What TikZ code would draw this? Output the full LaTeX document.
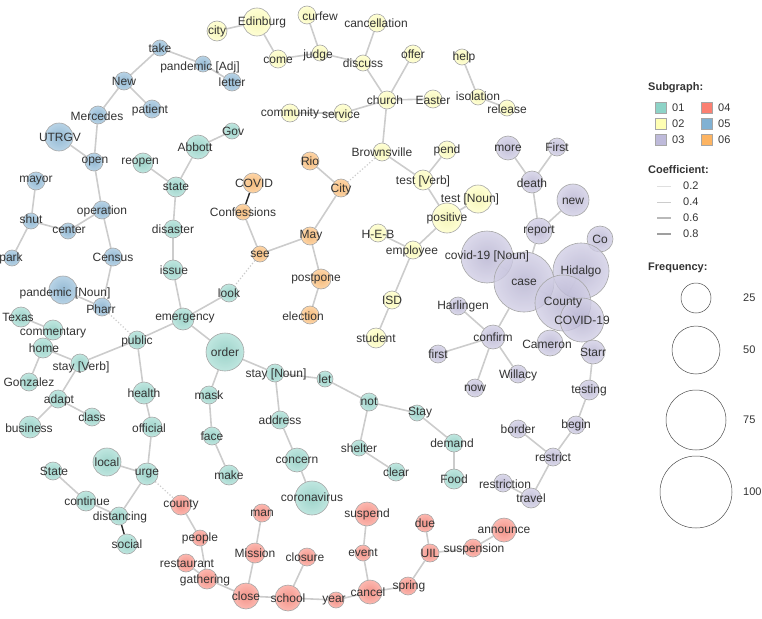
\documentclass[tikz,border=0pt]{standalone}
\usepackage{fontspec}
\setmainfont{Liberation Sans}
\usetikzlibrary{backgrounds}
\pgfdeclarelayer{fg}
\pgfsetlayers{background,main,fg}
\definecolor{cA}{HTML}{8DD3C7}
\definecolor{cB}{HTML}{FFFFB3}
\definecolor{cC}{HTML}{BEBADA}
\definecolor{cD}{HTML}{FB8072}
\definecolor{cE}{HTML}{80B1D3}
\definecolor{cF}{HTML}{FDB462}
\definecolor{txt}{HTML}{333333}
\definecolor{edgec}{HTML}{CCCCCC}
\tikzset{
 wn/.style={circle, draw=gray!70, line width=0.6pt, inner sep=0pt, fill opacity=0.8},
 lbl/.style={text=txt, font=\fontsize{12}{12}\selectfont, inner sep=0pt},
 ed/.style={draw=edgec, line width=1.6pt},
 dk/.style={draw=gray!30!black, line width=1.4pt},
 neg/.style={draw=edgec, line width=1.2pt, dotted},
 lgt/.style={text=txt, font=\fontsize{11}{11}\selectfont, inner sep=0pt, anchor=west},
 lgh/.style={text=txt, font=\bfseries\fontsize{11}{11}\selectfont, inner sep=0pt, anchor=west},
}
\newcommand\wnode[8]{\node[wn, inner color=#5!95!black, outer color=#5!70!white, minimum size=#4*2pt] (#1) at (#2,#3) {};
 \begin{pgfonlayer}{fg}\node[lbl] (#1-l) at (#6,#7) {#8};\end{pgfonlayer}}
\begin{document}
\begin{tikzpicture}[x=1pt,y=-1pt]
\useasboundingbox (0,0) rectangle (762,618);
% Blue 05
\wnode{take}{160}{48}{8}{cE}{160}{48}{take}
\wnode{padj}{203}{64}{8}{cE}{200}{67}{pandemic [Adj]}
\wnode{letter}{232}{82}{9}{cE}{232}{82}{letter}
\wnode{New}{124}{81}{9}{cE}{124}{81}{New}
\wnode{patient}{152}{109}{9}{cE}{150}{110}{patient}
\wnode{Mercedes}{98}{115}{9}{cE}{97}{116}{Mercedes}
\wnode{UTRGV}{59}{137}{14}{cE}{60}{137}{UTRGV}
\wnode{open}{94}{162}{9}{cE}{95}{162}{open}
\wnode{mayor}{36}{181}{9}{cE}{36}{181}{mayor}
\wnode{operation}{102}{210}{9}{cE}{102}{211}{operation}
\wnode{shut}{31}{221}{8}{cE}{31}{219}{shut}
\wnode{center}{68}{231}{8}{cE}{69}{230}{center}
\wnode{park}{12}{258}{8}{cE}{11}{258}{park}
\wnode{Census}{113}{257}{9}{cE}{113}{257}{Census}
\wnode{pnoun}{63}{290}{14}{cE}{65}{293}{pandemic [Noun]}
\wnode{Pharr}{102}{307}{9}{cE}{101}{309}{Pharr}
% Yellow 02
\wnode{city}{217}{31}{10}{cB}{217}{31}{city}
\wnode{Edinburg}{257}{22}{14}{cB}{262}{22}{Edinburg}
\wnode{come}{278}{59}{9}{cB}{278}{60}{come}
\wnode{curfew}{307}{15}{9}{cB}{320}{16}{curfew}
\wnode{judge}{320}{53}{8}{cB}{318}{55}{judge}
\wnode{cancellation}{377}{23}{9}{cB}{376}{23}{cancellation}
\wnode{discuss}{363}{63}{8}{cB}{363}{63}{discuss}
\wnode{offer}{413}{54}{9}{cB}{413}{54}{offer}
\wnode{help}{462}{57}{8}{cB}{464}{57}{help}
\wnode{church}{387}{100}{9}{cB}{385}{100}{church}
\wnode{Easter}{433}{99}{9}{cB}{433}{100}{Easter}
\wnode{isolation}{478}{97}{8}{cB}{478}{96}{isolation}
\wnode{release}{507}{108}{8}{cB}{507}{109}{release}
\wnode{community}{290}{113}{9}{cB}{290}{113}{community}
\wnode{service}{343}{113}{9}{cB}{341}{114}{service}
\wnode{Brownsville}{382}{152}{9}{cB}{382}{152}{Brownsville}
\wnode{pend}{447}{150}{9}{cB}{447}{150}{pend}
\wnode{testv}{423}{180}{10}{cB}{423}{181}{test [Verb]}
\wnode{testn}{478}{199}{14}{cB}{470}{199}{test [Noun]}
\wnode{positive}{447}{218}{15}{cB}{447}{218}{positive}
\wnode{HEB}{378}{233}{9}{cB}{378}{234}{H-E-B}
\wnode{employee}{413}{250}{9}{cB}{412}{251}{employee}
\wnode{ISD}{392}{300}{9}{cB}{392}{300}{ISD}
\wnode{student}{376}{338}{10}{cB}{376}{338}{student}
% Orange 06
\wnode{Rio}{310}{161}{9}{cF}{310}{161}{Rio}
\wnode{City}{341}{188}{9}{cF}{341}{189}{City}
\wnode{COVID}{253}{183}{10}{cF}{254}{183}{COVID}
\wnode{Confessions}{243}{212}{8}{cF}{243}{212}{Confessions}
\wnode{see}{260}{254}{8}{cF}{260}{254}{see}
\wnode{May}{310}{236}{9}{cF}{311}{236}{May}
\wnode{postpone}{321}{279}{10}{cF}{316}{279}{postpone}
\wnode{election}{310}{315}{9}{cF}{303}{316}{election}
% Green 01
\wnode{reopen}{143}{163}{10}{cA}{140}{163}{reopen}
\wnode{Abbott}{198}{147}{12}{cA}{195}{147}{Abbott}
\wnode{Gov}{232}{131}{8}{cA}{233}{131}{Gov}
\wnode{state}{176}{187}{10}{cA}{176}{187}{state}
\wnode{disaster}{173}{229}{9}{cA}{173}{229}{disaster}
\wnode{issue}{173}{270}{10}{cA}{174}{270}{issue}
\wnode{look}{229}{293}{9}{cA}{229}{293}{look}
\wnode{emergency}{183}{319}{11}{cA}{185}{319}{emergency}
\wnode{order}{225}{352}{19}{cA}{225}{352}{order}
\wnode{stayn}{275}{373}{9}{cA}{276}{374}{stay [Noun]}
\wnode{mask}{209}{395}{9}{cA}{209}{395}{mask}
\wnode{Texas}{21}{317}{10}{cA}{18}{317}{Texas}
\wnode{commentary}{53}{330}{10}{cA}{53}{333}{commentary}
\wnode{home}{43}{348}{10}{cA}{44}{348}{home}
\wnode{public}{137}{340}{9}{cA}{137}{341}{public}
\wnode{stayv}{80}{363}{9}{cA}{81}{367}{stay [Verb]}
\wnode{Gonzalez}{29}{382}{9}{cA}{29}{382}{Gonzalez}
\wnode{health}{144}{393}{11}{cA}{144}{393}{health}
\wnode{adapt}{58}{399}{9}{cA}{59}{400}{adapt}
\wnode{class}{92}{417}{9}{cA}{92}{417}{class}
\wnode{business}{30}{427}{11}{cA}{29}{428}{business}
\wnode{official}{152}{427}{10}{cA}{149}{428}{official}
\wnode{local}{107}{462}{14}{cA}{107}{462}{local}
\wnode{urge}{147}{474}{11}{cA}{147}{474}{urge}
\wnode{State}{53}{471}{9}{cA}{54}{471}{State}
\wnode{continue}{86}{501}{10}{cA}{87}{501}{continue}
\wnode{distancing}{119}{516}{9}{cA}{120}{517}{distancing}
\wnode{social}{127}{544}{10}{cA}{127}{544}{social}
\wnode{face}{212}{436}{9}{cA}{212}{436}{face}
\wnode{make}{229}{475}{10}{cA}{229}{475}{make}
\wnode{address}{280}{420}{9}{cA}{280}{420}{address}
\wnode{concern}{297}{460}{12}{cA}{297}{460}{concern}
\wnode{coronavirus}{312}{498}{17}{cA}{312}{497}{coronavirus}
\wnode{let}{325}{379}{8}{cA}{325}{379}{let}
\wnode{not}{369}{402}{9}{cA}{369}{402}{not}
\wnode{Stay}{417}{413}{8}{cA}{420}{413}{Stay}
\wnode{shelter}{359}{448}{8}{cA}{359}{448}{shelter}
\wnode{clear}{396}{472}{9}{cA}{396}{472}{clear}
\wnode{demand}{454}{443}{9}{cA}{452}{443}{demand}
\wnode{Food}{454}{479}{10}{cA}{454}{479}{Food}
% Red 04
\wnode{county}{181}{505}{10}{cD}{181}{505}{county}
\wnode{people}{200}{538}{8}{cD}{200}{538}{people}
\wnode{restaurant}{186}{563}{9}{cD}{187}{564}{restaurant}
\wnode{gathering}{207}{579}{10}{cD}{205}{580}{gathering}
\wnode{man}{262}{513}{9}{cD}{262}{513}{man}
\wnode{Mission}{255}{553}{10}{cD}{255}{553}{Mission}
\wnode{close}{246}{596}{13}{cD}{246}{596}{close}
\wnode{closure}{307}{557}{9}{cD}{305}{557}{closure}
\wnode{school}{288}{598}{13}{cD}{288}{598}{school}
\wnode{suspend}{367}{514}{12}{cD}{367}{514}{suspend}
\wnode{event}{363}{553}{8}{cD}{363}{553}{event}
\wnode{year}{336}{600}{8}{cD}{334}{601}{year}
\wnode{cancel}{370}{592}{12}{cD}{368}{592}{cancel}
\wnode{spring}{408}{586}{9}{cD}{409}{586}{spring}
\wnode{due}{425}{523}{9}{cD}{425}{523}{due}
\wnode{UIL}{430}{553}{9}{cD}{430}{553}{UIL}
\wnode{suspension}{473}{548}{9}{cD}{474}{549}{suspension}
\wnode{announce}{504}{530}{12}{cD}{504}{530}{announce}
% Purple 03
\wnode{more}{508}{148}{12}{cC}{508}{148}{more}
\wnode{First}{557}{147}{9}{cC}{557}{147}{First}
\wnode{death}{532}{182}{11}{cC}{532}{183}{death}
\wnode{new}{573}{200}{16}{cC}{573}{201}{new}
\wnode{report}{539}{231}{13}{cC}{539}{231}{report}
\wnode{Co}{600}{239}{13}{cC}{600}{239}{Co}
\wnode{covidn}{487}{257}{26}{cC}{487}{256}{covid-19 [Noun]}
\wnode{case}{524}{282}{30}{cC}{524}{282}{case}
\wnode{Hidalgo}{581}{271}{28}{cC}{581}{271}{Hidalgo}
\wnode{County}{563}{303}{28}{cC}{563}{303}{County}
\wnode{COVIDnt}{582}{320}{22}{cC}{582}{320}{COVID-19}
\wnode{Cameron}{550}{343}{13}{cC}{547}{344}{Cameron}
\wnode{Starr}{593}{352}{12}{cC}{593}{352}{Starr}
\wnode{testing}{589}{390}{10}{cC}{589}{390}{testing}
\wnode{confirm}{493}{337}{12}{cC}{493}{337}{confirm}
\wnode{Harlingen}{458}{306}{9}{cC}{463}{306}{Harlingen}
\wnode{first}{438}{354}{9}{cC}{438}{354}{first}
\wnode{now}{475}{388}{9}{cC}{475}{388}{now}
\wnode{Willacy}{518}{374}{9}{cC}{518}{375}{Willacy}
\wnode{begin}{576}{425}{9}{cC}{576}{425}{begin}
\wnode{border}{518}{429}{9}{cC}{518}{429}{border}
\wnode{restrict}{553}{457}{9}{cC}{553}{457}{restrict}
\wnode{restriction}{503}{483}{9}{cC}{505}{484}{restriction}
\wnode{travel}{531}{498}{10}{cC}{531}{498}{travel}
% Edges
\begin{scope}[on background layer]
\foreach \a/\b in {take/New,take/padj,padj/letter,New/Mercedes,New/patient,Mercedes/open,UTRGV/open,open/operation,operation/center,center/shut,shut/mayor,shut/park,operation/Census,Census/Pharr,pnoun/Pharr,
city/Edinburg,Edinburg/come,come/judge,curfew/judge,judge/discuss,cancellation/discuss,discuss/church,offer/church,church/Easter,church/service,community/service,church/Brownsville,help/isolation,isolation/release,Brownsville/testv,testv/pend,testv/positive,testn/positive,positive/employee,HEB/employee,employee/ISD,ISD/student,
Rio/City,City/May,May/see,see/Confessions,May/postpone,postpone/election,
reopen/state,Abbott/Gov,Abbott/state,state/disaster,disaster/issue,issue/emergency,emergency/look,emergency/order,emergency/public,public/stayv,public/health,health/official,official/urge,urge/local,urge/distancing,distancing/continue,continue/State,Texas/commentary,commentary/home,home/stayv,home/Gonzalez,stayv/adapt,adapt/business,adapt/class,order/mask,mask/face,face/make,order/stayn,stayn/let,stayn/address,address/concern,concern/coronavirus,let/not,not/Stay,not/shelter,shelter/clear,Stay/demand,demand/Food,
county/people,people/gathering,restaurant/gathering,gathering/close,man/Mission,Mission/close,close/school,closure/school,school/year,year/cancel,cancel/event,event/suspend,cancel/spring,spring/UIL,UIL/due,UIL/suspension,suspension/announce,
more/death,First/death,death/report,report/new,report/case,covidn/case,case/County,Hidalgo/County,Hidalgo/Co,County/COVIDnt,County/Cameron,COVIDnt/Starr,Starr/testing,testing/begin,begin/restrict,border/restrict,restrict/travel,travel/restriction,case/confirm,Harlingen/confirm,first/confirm,confirm/now,confirm/Willacy}
 {\draw[ed] (\a) -- (\b);}
\draw[dk] (Confessions) -- (COVID);
\draw[dk] (distancing) -- (social);
\draw[neg] (Pharr) -- (public);
\draw[neg] (Brownsville) -- (City);
\draw[neg] (see) -- (look);
\draw[neg] (urge) -- (county);
\end{scope}
% Legend
\node[lgh] (hsub) at (648,88) {Subgraph:};
\foreach \n/\c/\t/\x/\y in {s1/cA/01/655/108,s2/cB/02/655/124,s3/cC/03/655/140,s4/cD/04/701/108,s5/cE/05/701/124,s6/cF/06/701/140}{
 \node[draw=gray!70, fill=\c, minimum size=11pt, inner sep=0pt] (\n) at (\x+6,\y) {};
 \node[lgt] (\n-t) at (\x+17,\y) {\t};}
\node[lgh] (hcoef) at (648,170) {Coefficient:};
\foreach \n/\w/\g/\t/\y in {k1/0.5/25/0.2/186,k2/0.9/40/0.4/202,k3/1.4/55/0.6/218,k4/1.9/75/0.8/234}{
 \coordinate (\n-a) at (657,\y); \coordinate (\n-b) at (671,\y);
 \draw[line width=\w pt, draw=gray!\g] (\n-a) -- (\n-b);
 \node[lgt] (\n-t) at (683,\y) {\t};}
\node[lgh] (hfreq) at (648,268) {Frequency:};
\foreach \n/\r/\y/\t in {f1/15/298/25,f2/24/350/50,f3/30/420/75,f4/36/492/100}{
 \node[circle, draw=gray!60!black, line width=0.5pt, minimum size=2*\r pt, inner sep=0pt] (\n) at (696,\y) {};
 \node[lgt] (\n-t) at (743,\y) {\t};}
\end{tikzpicture}
\end{document}
